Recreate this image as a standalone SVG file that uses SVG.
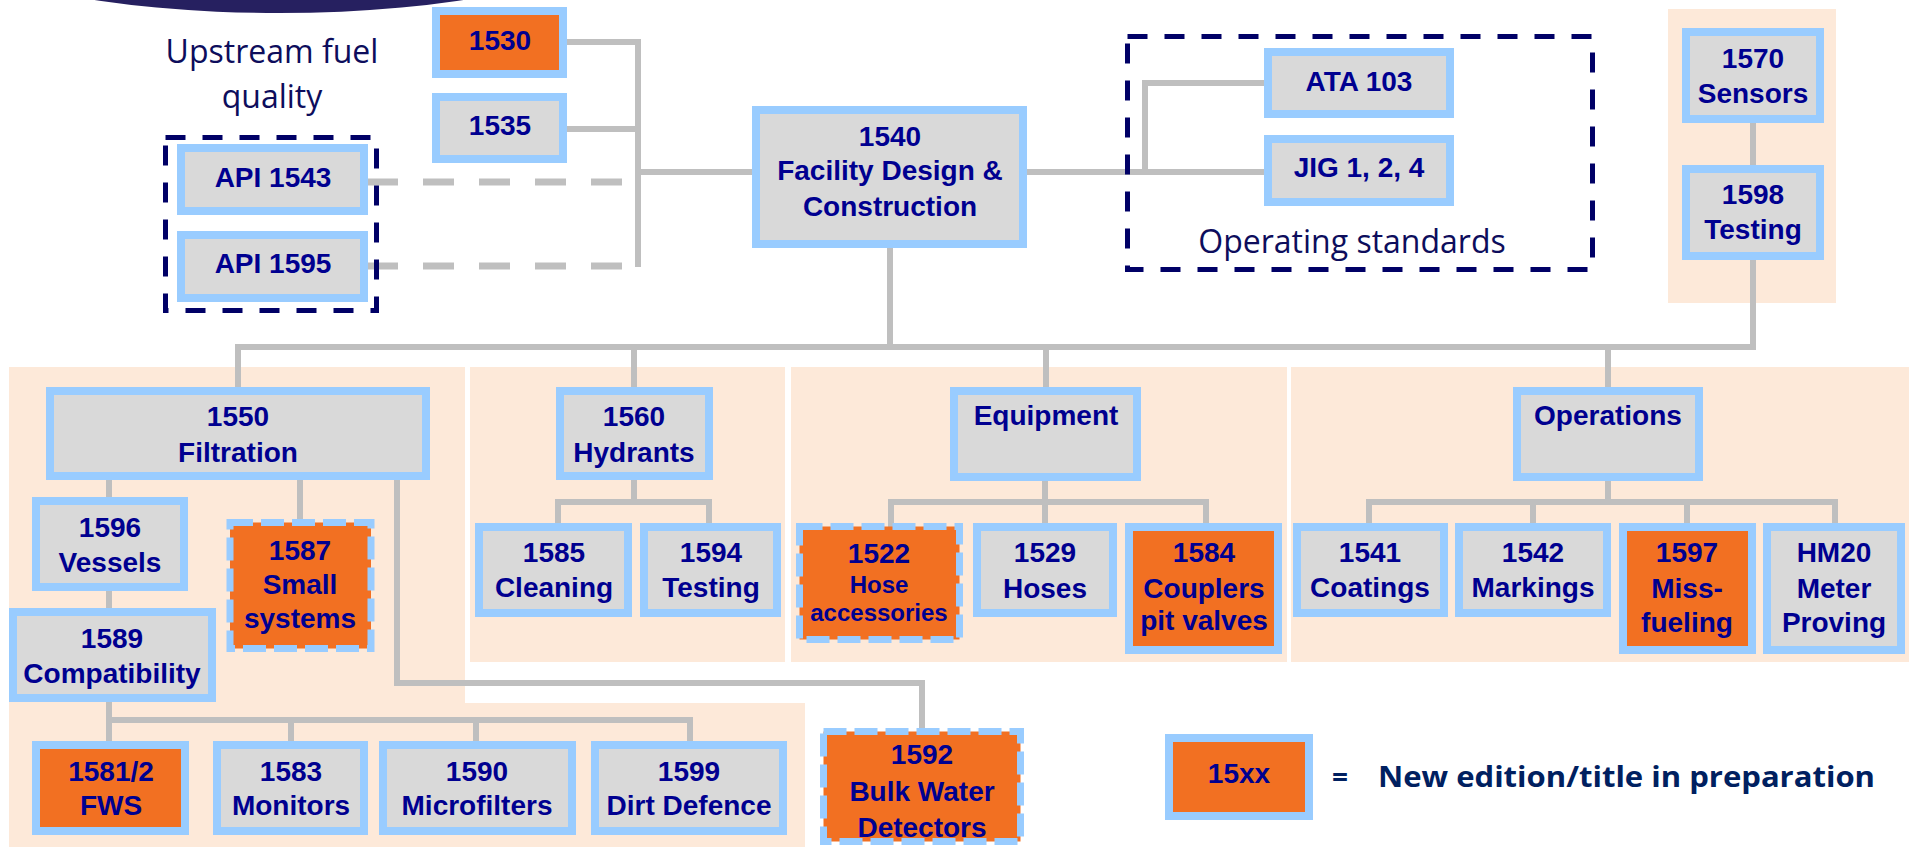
<svg xmlns="http://www.w3.org/2000/svg" width="1913" height="847" viewBox="0 0 1913 847">
<style>
.panel{fill:#fde9d9;stroke:none}
.box{fill:#d9d9d9;stroke:#99ccff;stroke-width:8}
.new{fill:#f27022;stroke:#99ccff;stroke-width:8}
.newd{fill:#f27022;stroke:#99ccff;stroke-width:7;stroke-dasharray:23 8}
.grp{fill:none;stroke:#000066;stroke-width:5;stroke-dasharray:20 17}
.c{fill:none;stroke:#bfbfbf;stroke-width:6}
.cd{fill:none;stroke:#bfbfbf;stroke-width:7;stroke-dasharray:31 25}
.t{font-family:"Liberation Sans",Arial,sans-serif;font-weight:bold;font-size:28px;fill:#000090;text-anchor:middle}
.ts{font-size:24px}
.note{font-family:"Open Sans","Noto Sans",sans-serif;font-size:32px;fill:#0d0d5c;text-anchor:middle}
.leg{font-family:"Open Sans","Noto Sans",sans-serif;font-weight:bold;font-size:28px;fill:#002060}
</style>
<rect width="1913" height="847" fill="#ffffff"/>
<ellipse cx="279" cy="-58" rx="320" ry="71" fill="#262060"/>

<g id="panels">
<rect class="panel" x="9" y="367" width="456" height="336"/>
<rect class="panel" x="9" y="703" width="796" height="144"/>
<rect class="panel" x="470" y="367" width="315" height="295"/>
<rect class="panel" x="791" y="367" width="496" height="295"/>
<rect class="panel" x="1291" y="367" width="618" height="295"/>
<rect class="panel" x="1668" y="9" width="168" height="294"/>
</g>

<g id="connectors">
<polyline class="c" points="563,42 638,42 638,267"/>
<line class="c" x1="563" y1="129" x2="638" y2="129"/>
<line class="c" x1="638" y1="172" x2="756" y2="172"/>
<line class="cd" x1="367" y1="182" x2="622" y2="182"/>
<line class="cd" x1="367" y1="266" x2="622" y2="266"/>
<line class="c" x1="1023" y1="172" x2="1268" y2="172"/>
<polyline class="c" points="1145,172 1145,83 1268,83"/>
<line class="c" x1="1753" y1="119" x2="1753" y2="169"/>
<polyline class="c" points="1753,256 1753,347 238,347 238,391"/>
<line class="c" x1="890" y1="244" x2="890" y2="347"/>
<line class="c" x1="634" y1="347" x2="634" y2="391"/>
<line class="c" x1="1046" y1="347" x2="1046" y2="391"/>
<line class="c" x1="1608" y1="347" x2="1608" y2="391"/>
<line class="c" x1="109" y1="476" x2="109" y2="501"/>
<line class="c" x1="109" y1="587" x2="109" y2="612"/>
<line class="c" x1="300" y1="476" x2="300" y2="522"/>
<polyline class="c" points="397,476 397,683 922,683 922,731"/>
<line class="c" x1="109" y1="698" x2="109" y2="745"/>
<polyline class="c" points="109,720 690,720 690,745"/>
<line class="c" x1="291" y1="720" x2="291" y2="745"/>
<line class="c" x1="476" y1="720" x2="476" y2="745"/>
<line class="c" x1="634" y1="476" x2="634" y2="502"/>
<polyline class="c" points="558,527 558,502 709,502 709,527"/>
<line class="c" x1="1045" y1="477" x2="1045" y2="527"/>
<polyline class="c" points="891,527 891,502 1206,502 1206,527"/>
<line class="c" x1="1608" y1="477" x2="1608" y2="502"/>
<polyline class="c" points="1369,527 1369,502 1835,502 1835,527"/>
<line class="c" x1="1533" y1="502" x2="1533" y2="527"/>
<line class="c" x1="1687" y1="502" x2="1687" y2="527"/>
</g>

<g id="grp-upstream">
<rect class="grp" x="165.5" y="137.5" width="211" height="173"/>
<text class="note" x="272" y="63">Upstream fuel</text>
<text class="note" x="272" y="108">quality</text>
</g>
<g id="grp-operating">
<rect class="grp" x="1127.5" y="36.5" width="465" height="233"/>
<text class="note" x="1352" y="253">Operating standards</text>
</g>

<g id="n1530"><rect class="new" x="436" y="11" width="127" height="63"/><text class="t" x="500" y="50">1530</text></g>
<g id="n1535"><rect class="box" x="436" y="97" width="127" height="62"/><text class="t" x="500" y="135">1535</text></g>
<g id="napi1543"><rect class="box" x="181" y="148" width="183" height="63"/><text class="t" x="273" y="187">API 1543</text></g>
<g id="napi1595"><rect class="box" x="181" y="235" width="183" height="63"/><text class="t" x="273" y="273">API 1595</text></g>
<g id="n1540"><rect class="box" x="756" y="110" width="267" height="134"/><text class="t" x="890" y="146">1540</text><text class="t" x="890" y="180">Facility Design &amp;</text><text class="t" x="890" y="216">Construction</text></g>
<g id="nata103"><rect class="box" x="1268" y="52" width="182" height="62"/><text class="t" x="1359" y="91">ATA 103</text></g>
<g id="njig"><rect class="box" x="1268" y="139" width="182" height="63"/><text class="t" x="1359" y="177">JIG 1, 2, 4</text></g>
<g id="n1570"><rect class="box" x="1686" y="32" width="134" height="87"/><text class="t" x="1753" y="68">1570</text><text class="t" x="1753" y="103">Sensors</text></g>
<g id="n1598"><rect class="box" x="1686" y="169" width="134" height="87"/><text class="t" x="1753" y="204">1598</text><text class="t" x="1753" y="239">Testing</text></g>

<g id="n1550"><rect class="box" x="50" y="391" width="376" height="85"/><text class="t" x="238" y="426">1550</text><text class="t" x="238" y="462">Filtration</text></g>
<g id="n1596"><rect class="box" x="36" y="501" width="148" height="86"/><text class="t" x="110" y="537">1596</text><text class="t" x="110" y="572">Vessels</text></g>
<g id="n1589"><rect class="box" x="13" y="612" width="199" height="86"/><text class="t" x="112" y="648">1589</text><text class="t" x="112" y="683">Compatibility</text></g>
<g id="n1587"><rect class="newd" x="230" y="522.5" width="141" height="126"/><text class="t" x="300" y="560">1587</text><text class="t" x="300" y="594">Small</text><text class="t" x="300" y="628">systems</text></g>
<g id="n1581"><rect class="new" x="36" y="745" width="149" height="86"/><text class="t" x="111" y="781">1581/2</text><text class="t" x="111" y="815">FWS</text></g>
<g id="n1583"><rect class="box" x="217" y="745" width="147" height="86"/><text class="t" x="291" y="781">1583</text><text class="t" x="291" y="815">Monitors</text></g>
<g id="n1590"><rect class="box" x="383" y="745" width="189" height="86"/><text class="t" x="477" y="781">1590</text><text class="t" x="477" y="815">Microfilters</text></g>
<g id="n1599"><rect class="box" x="595" y="745" width="188" height="86"/><text class="t" x="689" y="781">1599</text><text class="t" x="689" y="815">Dirt Defence</text></g>

<g id="n1560"><rect class="box" x="560" y="391" width="149" height="85"/><text class="t" x="634" y="426">1560</text><text class="t" x="634" y="462">Hydrants</text></g>
<g id="n1585"><rect class="box" x="479" y="527" width="149" height="86"/><text class="t" x="554" y="562">1585</text><text class="t" x="554" y="597">Cleaning</text></g>
<g id="n1594"><rect class="box" x="644" y="527" width="133" height="86"/><text class="t" x="711" y="562">1594</text><text class="t" x="711" y="597">Testing</text></g>

<g id="nequipment"><rect class="box" x="954" y="391" width="183" height="86"/><text class="t" x="1046" y="425">Equipment</text></g>
<g id="n1522"><rect class="newd" x="799.5" y="526.5" width="160" height="113"/><text class="t" x="879" y="563">1522</text><text class="t ts" x="879" y="593">Hose</text><text class="t ts" x="879" y="621">accessories</text></g>
<g id="n1529"><rect class="box" x="977" y="527" width="136" height="86"/><text class="t" x="1045" y="562">1529</text><text class="t" x="1045" y="598">Hoses</text></g>
<g id="n1584"><rect class="new" x="1129" y="527" width="149" height="123"/><text class="t" x="1204" y="562">1584</text><text class="t" x="1204" y="598">Couplers</text><text class="t" x="1204" y="630">pit valves</text></g>
<g id="n1592"><rect class="newd" x="823.5" y="731.5" width="197" height="110"/><text class="t" x="922" y="764">1592</text><text class="t" x="922" y="801">Bulk Water</text><text class="t" x="922" y="837">Detectors</text></g>

<g id="noperations"><rect class="box" x="1517" y="391" width="182" height="86"/><text class="t" x="1608" y="425">Operations</text></g>
<g id="n1541"><rect class="box" x="1297" y="527" width="147" height="86"/><text class="t" x="1370" y="562">1541</text><text class="t" x="1370" y="597">Coatings</text></g>
<g id="n1542"><rect class="box" x="1459" y="527" width="148" height="86"/><text class="t" x="1533" y="562">1542</text><text class="t" x="1533" y="597">Markings</text></g>
<g id="n1597"><rect class="new" x="1623" y="527" width="129" height="123"/><text class="t" x="1687" y="562">1597</text><text class="t" x="1687" y="598">Miss-</text><text class="t" x="1687" y="632">fueling</text></g>
<g id="nhm20"><rect class="box" x="1767" y="527" width="134" height="123"/><text class="t" x="1834" y="562">HM20</text><text class="t" x="1834" y="598">Meter</text><text class="t" x="1834" y="632">Proving</text></g>

<g id="legend">
<rect class="new" x="1169" y="738" width="140" height="78"/>
<text class="t" x="1239" y="783">15xx</text>
<text class="leg" x="1332" y="787">=</text>
<text class="leg" x="1378" y="787" textLength="497" lengthAdjust="spacingAndGlyphs">New edition/title in preparation</text>
</g>
</svg>
